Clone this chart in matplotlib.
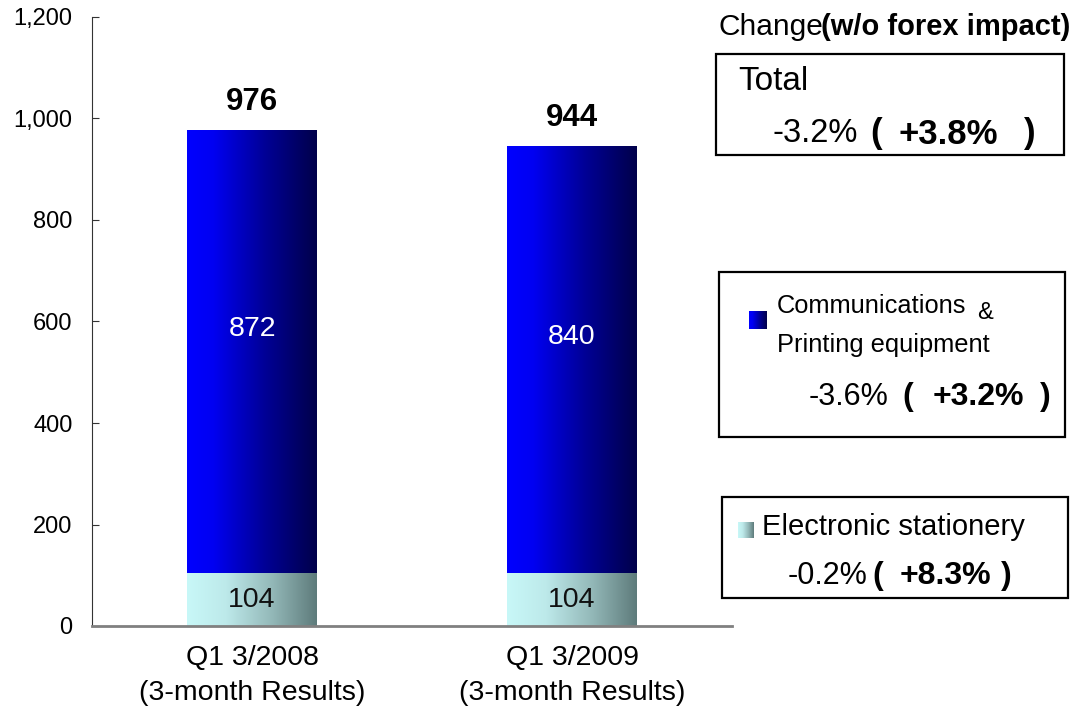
import numpy as np
import matplotlib.pyplot as plt
from matplotlib.colors import LinearSegmentedColormap
from matplotlib.ticker import FuncFormatter

plt.rcParams['font.family'] = ['Liberation Sans', 'DejaVu Sans']

# 売上データ
categories = ['Q1 3/2008\n(3-month Results)', 'Q1 3/2009\n(3-month Results)']
stationery = [104, 104]
comm_printing = [872, 840]
totals = [976, 944]

# 前年比(為替影響除く)
chg_labels = ['Total', 'Communications', 'Electronic stationery']
chg_pct = ['-3.2%', '-3.6%', '-0.2%']
chg_wo_fx = ['+3.8%', '+3.2%', '+8.3%']

W, H = 1075, 720
fig = plt.figure(figsize=(W / 100, H / 100), dpi=100)
ax = fig.add_axes([92 / W, 1 - 626 / H, 640 / W, 609 / H])

cmap_blue = LinearSegmentedColormap.from_list(
    'blue', [(0, '#0000ff'), (0.2, '#0000f2'), (0.6, '#000096'), (1, '#00004a')])
cmap_cyan = LinearSegmentedColormap.from_list(
    'cyan', [(0, '#c8f8f8'), (0.3, '#bde9ea'), (0.65, '#94b9b9'), (1, '#5e7b7b')])
grad = np.linspace(0, 1, 256).reshape(1, -1)

x = np.arange(len(categories))
width = 0.405
b1 = ax.bar(x, stationery, width, color='none', edgecolor='none')
b2 = ax.bar(x, comm_printing, width, bottom=stationery, color='none', edgecolor='none')

# 横方向グラデーションで塗る
for bars, cm in [(b1, cmap_cyan), (b2, cmap_blue)]:
    for p in bars:
        x0, y0 = p.get_x(), p.get_y()
        ax.imshow(grad, cmap=cm, aspect='auto', interpolation='bilinear',
                  extent=[x0, x0 + p.get_width(), y0, y0 + p.get_height()], zorder=2)

for i in x:
    ax.text(i, stationery[i] / 2, str(stationery[i]), ha='center', va='center',
            fontsize=20.5, color='#111111', zorder=3)
    ax.text(i, stationery[i] + comm_printing[i] / 2 + 45, str(comm_printing[i]),
            ha='center', va='center', fontsize=20.5, color='white', zorder=3)
    ax.annotate(str(totals[i]), (i, totals[i]), xytext=(0, 21), textcoords='offset points',
                ha='center', va='center', fontsize=22.5, fontweight='bold')

ax.set_xlim(-0.5, 1.5)
ax.set_ylim(0, 1200)
ax.set_yticks(range(0, 1201, 200))
ax.yaxis.set_major_formatter(FuncFormatter(lambda v, _: f'{int(v):,}'))
ax.tick_params(axis='y', direction='in', length=5, labelsize=17, pad=14, color='#333333')
ax.tick_params(axis='x', length=0, labelsize=20.5, pad=14)
ax.set_xticks(x)
ax.set_xticklabels(categories, linespacing=1.45)
for s in ['top', 'right']:
    ax.spines[s].set_visible(False)
ax.spines['left'].set_color('#333333')
ax.spines['bottom'].set_color('#808080')
ax.spines['bottom'].set_linewidth(2)


def fx(px, py):
    return px / W, 1 - py / H


def box(x0, y0, x1, y1):
    fig.add_artist(plt.Rectangle(fx(x0, y1), (x1 - x0) / W, (y1 - y0) / H,
                                 transform=fig.transFigure, fill=False,
                                 edgecolor='black', linewidth=1.6))


def swatch(x0, y0, size, cm):
    sax = fig.add_axes([x0 / W, 1 - (y0 + size) / H, size / W, size / H])
    sax.imshow(grad, cmap=cm, aspect='auto')
    sax.axis('off')


def pct_line(px, py, i, xs, fs, fb):
    fig.text(*fx(px, py), chg_pct[i], fontsize=fs, va='center')
    fig.text(*fx(xs[0], py), '(', fontsize=fb, va='center', fontweight='bold')
    fig.text(*fx(xs[1], py), chg_wo_fx[i], fontsize=fb, va='center', fontweight='bold')
    fig.text(*fx(xs[2], py), ')', fontsize=fb, va='center', fontweight='bold')


fig.text(*fx(718, 27), 'Change', fontsize=21.5, va='center')
fig.text(*fx(821, 27), '(w/o forex impact)', fontsize=21, va='center', fontweight='bold')

# Total
box(716, 54, 1064, 155)
fig.text(*fx(738, 81), chg_labels[0], fontsize=24, va='center')
pct_line(772, 134, 0, (870, 898, 1024), 23.5, 25)

# Communications & Printing equipment
box(719, 272, 1065, 437)
swatch(749, 311, 18, cmap_blue)
fig.text(*fx(777, 306), chg_labels[1], fontsize=18.3, va='center')
fig.text(*fx(977, 313), '&', fontsize=17, va='center')
fig.text(*fx(777, 345), 'Printing equipment', fontsize=18.3, va='center')
pct_line(809, 397, 1, (902, 933, 1040), 22, 23)

# Electronic stationery
box(722, 497, 1068, 598)
swatch(738, 522, 16, cmap_cyan)
fig.text(*fx(762, 527), chg_labels[2], fontsize=21, va='center')
pct_line(788, 576, 2, (872, 900, 1001), 22, 23)

fig.savefig('out.png', dpi=100)
